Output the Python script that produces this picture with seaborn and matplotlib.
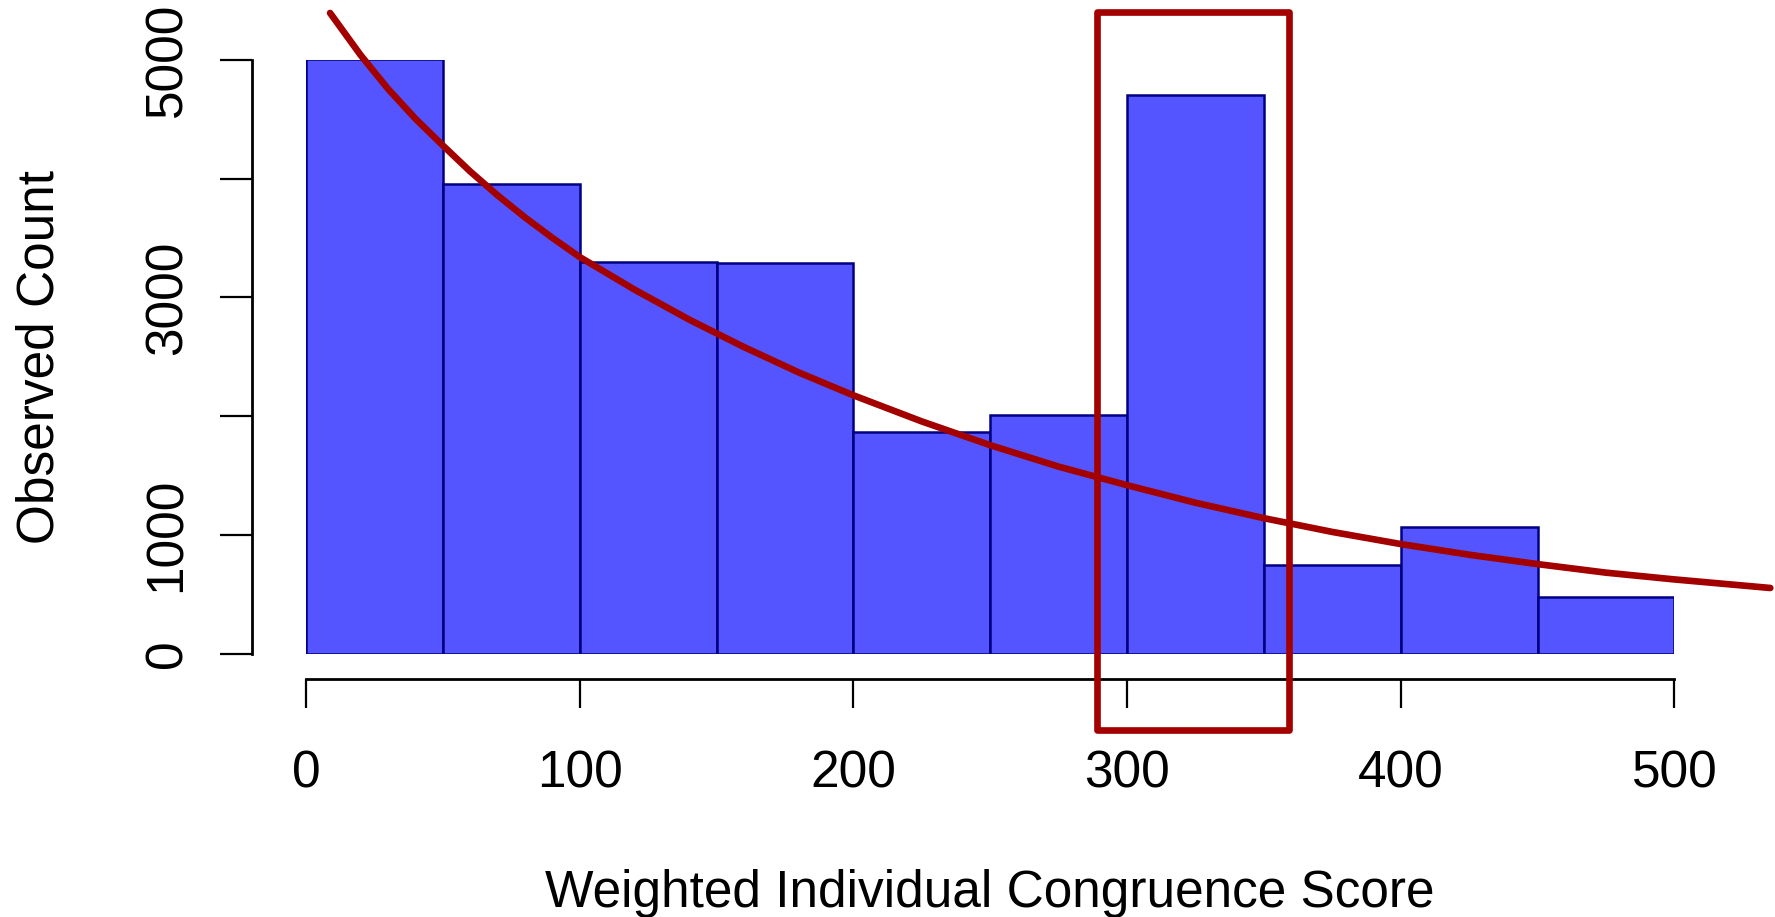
import numpy as np
import pandas as pd
import matplotlib
matplotlib.use("Agg")
import matplotlib.pyplot as plt
import seaborn as sns

# Histogram bins and the counts
bin_edges = [0, 50, 100, 150, 200, 250, 300, 350, 400, 450, 500]
bin_counts = [5005, 3955, 3300, 3290, 1865, 2010, 4705, 748, 1068, 478]

# Fitted decay curve
curve_x = [8.8, 20, 30, 40, 50, 60, 70, 80, 90, 100, 120, 140, 160, 180, 200,
           225, 250, 275, 300, 325, 350, 375, 400, 425, 450, 475, 500, 535]
curve_y = [5396, 5040, 4756, 4505, 4280, 4061, 3860, 3674, 3502, 3340, 3066, 2813, 2582, 2368, 2175,
           1955, 1755, 1574, 1418, 1270, 1140, 1024, 922, 832, 753, 681, 624, 552]

# Highlight box around the 300-350 bin (data coords)
highlight_x = [289, 359]
highlight_y = [-644, 5405]

x_ticks = [0, 100, 200, 300, 400, 500]
y_ticks = [0, 1000, 2000, 3000, 4000, 5000]
y_tick_labels = ["0", "1000", "", "3000", "", "5000"]

x_label = "Weighted Individual Congruence Score"
y_label = "Observed Count"

sns.set_style("ticks")
plt.rcParams["font.family"] = ["Liberation Sans", "DejaVu Sans"]
plt.rcParams["text.color"] = "black"
plt.rcParams["axes.labelcolor"] = "black"
plt.rcParams["xtick.color"] = "black"
plt.rcParams["ytick.color"] = "black"

fig = plt.figure(figsize=(17.75, 9.17), dpi=100)
ax = fig.add_axes([306 / 1775, (917 - 653.5) / 917, 1368.5 / 1775, 593.5 / 917])

# bars from the binned counts
centers = [(a + b) / 2 for a, b in zip(bin_edges[:-1], bin_edges[1:])]
df = pd.DataFrame({"score": centers, "count": bin_counts})
sns.histplot(data=df, x="score", weights="count", bins=bin_edges, stat="count",
             color="#5555FF", edgecolor="#000080", linewidth=1.8, alpha=1, ax=ax)

curve = pd.DataFrame({"x": curve_x, "y": curve_y})
sns.lineplot(data=curve, x="x", y="y", color="#A30000", linewidth=4.8, ax=ax,
             clip_on=False, zorder=5, sort=True)

rect = plt.Rectangle((highlight_x[0], highlight_y[0]), highlight_x[1] - highlight_x[0],
                     highlight_y[1] - highlight_y[0], fill=False, edgecolor="#A30000",
                     linewidth=4.8, joinstyle="round", clip_on=False, zorder=6)
ax.add_patch(rect)

ax.set_xlim(0, 500)
ax.set_ylim(0, 5000)

# R-style detached axes
sns.despine(ax=ax)
ax.spines["left"].set_position(("outward", 39))
ax.spines["bottom"].set_position(("outward", 18.4))
ax.spines["left"].set_bounds(0, 5000)
ax.spines["bottom"].set_bounds(0, 500)
for s in ["left", "bottom"]:
    ax.spines[s].set_linewidth(2)
    ax.spines[s].set_color("black")

ax.set_xticks(x_ticks)
ax.set_xticklabels([str(t) for t in x_ticks], fontsize=37)
ax.set_yticks(y_ticks)
ax.set_yticklabels(y_tick_labels, fontsize=37, rotation=90, va="center")
ax.tick_params(axis="x", length=21, width=1.6, pad=30)
ax.tick_params(axis="y", length=23, width=1.6, pad=20)

ax.set_xlabel(x_label, fontsize=37)
ax.set_ylabel(y_label, fontsize=37)
ax.xaxis.set_label_coords(0.5, (653.5 - 893) / 593.5)
ax.xaxis.label.set_va("center")
ax.yaxis.set_label_coords((39.5 - 306) / 1368.5, 0.5)
ax.yaxis.label.set_va("center")

fig.savefig("out.png", dpi=100)
